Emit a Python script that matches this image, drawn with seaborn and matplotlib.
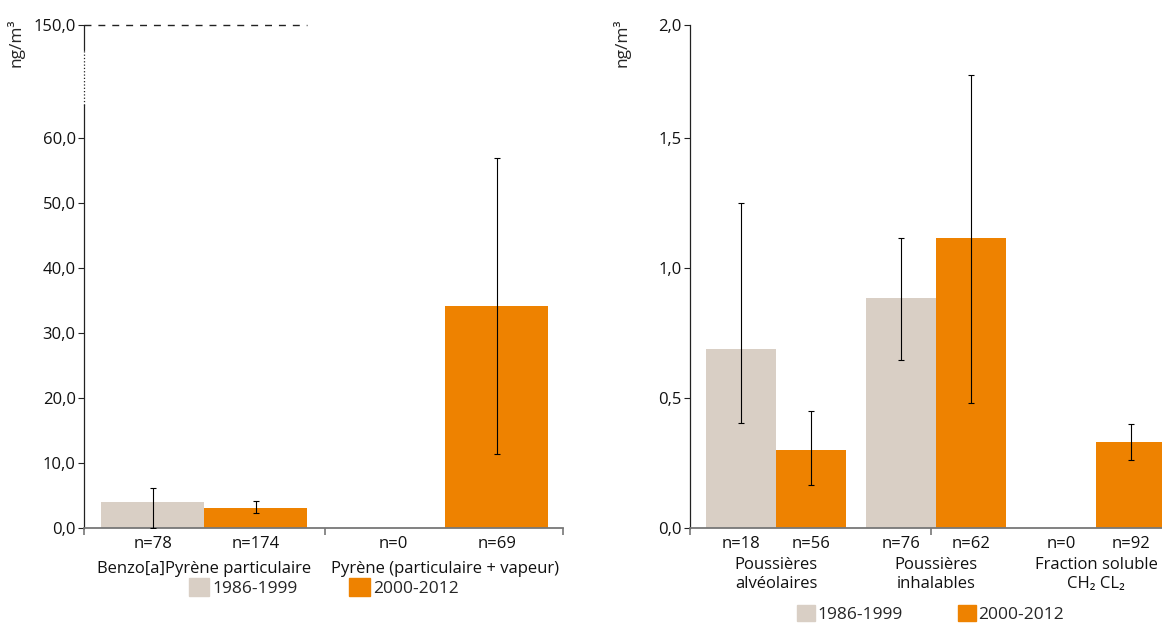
import matplotlib
matplotlib.use("Agg")
import matplotlib.pyplot as plt
import seaborn as sns
import pandas as pd
import numpy as np

# periodes et couleurs
periods = ["1986-1999", "2000-2012"]
colors = ["#D9CFC5", "#EE8200"]

# graphique de gauche : HAP (ng/m3)
hap_groups = ["Benzo[a]Pyrène particulaire", "Pyrène (particulaire + vapeur)"]
hap_n = [78, 174, 0, 69]
hap_mean = [4.0, 3.15, 0.0, 34.2]
hap_low = [0.0, 2.3, np.nan, 11.4]
hap_high = [6.2, 4.15, np.nan, 56.9]
hap_ticks = [0, 10, 20, 30, 40, 50, 60]
hap_ticklabels = ["0,0", "10,0", "20,0", "30,0", "40,0", "50,0", "60,0"]
hap_top_label = "150,0"

# graphique de droite : poussieres (ng/m3)
pous_groups = ["Poussières\nalvéolaires", "Poussières\ninhalables", "Fraction soluble\nCH₂ CL₂"]
pous_n = [18, 56, 76, 62, 0, 92]
pous_mean = [0.69, 0.30, 0.885, 1.115, 0.0, 0.33]
pous_low = [0.405, 0.165, 0.645, 0.48, np.nan, 0.26]
pous_high = [1.25, 0.45, 1.115, 1.742, np.nan, 0.40]
pous_ticks = [0, 0.5, 1.0, 1.5]
pous_ticklabels = ["0,0", "0,5", "1,0", "1,5"]
pous_top_label = "2,0"

sns.set_style("white")
plt.rcParams['font.family'] = ['Open Sans', 'DejaVu Sans']
plt.rcParams['font.size'] = 12


def draw(ax, groups, n, mean, low, high, width, label_off):
    df = pd.DataFrame({
        "groupe": np.repeat(groups, 2),
        "periode": periods * len(groups),
        "valeur": mean,
    })
    sns.barplot(data=df, x="groupe", y="valeur", hue="periode", hue_order=periods,
                palette=colors, width=width, errorbar=None, saturation=1,
                linewidth=0, ax=ax)
    bars = sorted([p for c in ax.containers for p in c], key=lambda p: p.get_x())
    xc = np.array([p.get_x() + p.get_width() / 2 for p in bars])
    m = np.array(mean)
    lo = np.array(low)
    hi = np.array(high)
    ok = ~np.isnan(lo)
    ax.errorbar(xc[ok], m[ok], yerr=[m[ok] - lo[ok], hi[ok] - m[ok]], fmt="none",
                ecolor="black", elinewidth=0.8, capsize=1.9, capthick=0.8, zorder=5)
    ax.set_xticks(xc, ["n=%d" % v for v in n])
    ax.tick_params(axis="x", length=0, pad=6, labelcolor="#111111")
    for i, g in enumerate(groups):
        ax.annotate(g, xy=(i, 0), xycoords=ax.get_xaxis_transform(),
                    xytext=(0, label_off), textcoords="offset points",
                    ha="center", va="top", color="#111111")
    sns.despine(ax=ax)
    ax.spines["bottom"].set_color("#777777")
    ax.spines["bottom"].set_linewidth(1.3)
    ax.spines["left"].set_color("#222222")
    ax.spines["left"].set_linewidth(0.9)
    ax.tick_params(axis="y", left=True, length=4, width=0.8, color="#222222", pad=2,
                   labelcolor="#111111")
    ax.tick_params(axis="x", which="minor", bottom=True, length=5, width=1.2,
                   color="#777777", direction="out")
    ax.set_xlabel("")
    ax.set_ylabel("ng/m³", fontsize=12.5)
    if ax.get_legend() is not None:
        ax.get_legend().remove()


fig = plt.figure(figsize=(11.62, 6.24), dpi=100)

# gauche
ax1 = fig.add_axes([84 / 1162, 96 / 624, 479 / 1162, 503 / 624])
draw(ax1, hap_groups, hap_n, hap_mean, hap_low, hap_high, 0.855, -24)
top1 = 503 / 6.5
ax1.set_xlim(-0.5, (563 - 204) / 241)
ax1.set_ylim(0, top1)
ax1.set_yticks(hap_ticks + [top1], hap_ticklabels + [hap_top_label])
ax1.set_xticks([-0.5, 0.5, (563 - 204) / 241], minor=True)
# axe coupe : trait plein, pointilles, trait plein
ax1.spines["left"].set_bounds(0, 65.1)
ax1.plot([-0.5, -0.5], [65.1, 73.5], ls=":", color="#222222", lw=0.9, clip_on=False)
ax1.plot([-0.5, -0.5], [73.5, top1], ls="-", color="#222222", lw=0.9, clip_on=False)
ax1.plot([-0.5, 0.427], [top1, top1], ls=(0, (5, 5)), color="#222222", lw=1.0, clip_on=False)
ax1.yaxis.set_label_coords(-0.125, 0.965)
h = [plt.Rectangle((0, 0), 1, 1, color=c) for c in colors]
ax1.legend(h, periods, loc="center", bbox_to_anchor=(0.5, -0.119), ncol=2, frameon=False,
           handlelength=1.2, handleheight=1.2, handletextpad=0.15, columnspacing=3.0,
           fontsize=12.5)

# droite
ax2 = fig.add_axes([690 / 1162, 96 / 624, 472 / 1162, 503 / 624])
draw(ax2, pous_groups, pous_n, pous_mean, pous_low, pous_high, 0.875, -21)
top2 = 503 / 260
ax2.set_xlim(-0.5375, (1162 - 776) / 160)
ax2.set_ylim(0, top2)
ax2.set_yticks(pous_ticks + [top2], pous_ticklabels + [pous_top_label])
ax2.set_xticks([-0.5375, (931 - 776) / 160], minor=True)
ax2.yaxis.set_label_coords(-0.125, 0.965)
ax2.legend(h, periods, loc="center", bbox_to_anchor=(0.51, -0.171), ncol=2, frameon=False,
           handlelength=1.0, handleheight=1.0, handletextpad=0.15, columnspacing=3.2,
           fontsize=12.5)

fig.savefig("out.png", dpi=100)
